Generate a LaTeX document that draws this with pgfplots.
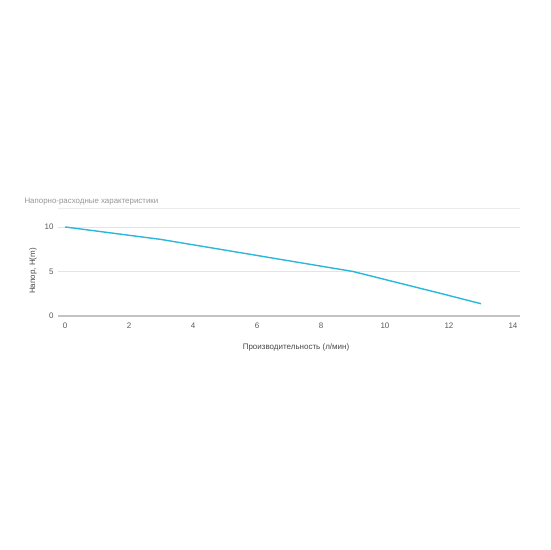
\documentclass[border=0pt]{standalone}
\usepackage{pgfplots}
\pgfplotsset{compat=1.18}
\usepackage{fontspec}
\setmainfont{Liberation Sans}
\definecolor{linec}{RGB}{43,183,218}
\definecolor{gridc}{RGB}{228,228,228}
\definecolor{axc}{RGB}{195,195,195}
\definecolor{tickc}{RGB}{90,90,90}
\definecolor{titlec}{RGB}{150,150,150}
\begin{document}
\begin{tikzpicture}[x=1pt,y=1pt]
\useasboundingbox (0,0) rectangle (550,550);
\begin{axis}[
  at={(58pt,234pt)}, anchor=south west,
  scale only axis, width=462pt, height=108pt,
  xmin=-0.219, xmax=14.22, ymin=0, ymax=12.13,
  xtick={0,2,...,14}, ytick={0,5,10},
  axis x line=bottom, axis y line=left,
  x axis line style={draw=axc, line width=1.1pt, -},
  y axis line style={draw=none},
  major tick length=0pt,
  ymajorgrids, grid style={gridc, line width=0.6pt},
  extra y ticks={12.13}, extra y tick labels={},
  extra y tick style={grid style={gridc!70, line width=0.6pt}},
  ticklabel style={font=\fontsize{8}{9}\selectfont, text=tickc},
  /pgf/number format/assume math mode=true,
  xticklabel style={yshift=-3pt},
  yticklabel style={xshift=-1pt},
  clip=false,
]
\addplot[linec, line width=1.4pt] coordinates {
 (0,10) (3,8.6) (6,6.8) (9,5.0) (12,2.3) (13,1.38)
};
\end{axis}
\node[anchor=west, text=titlec, font=\fontsize{7.9}{9.5}\selectfont] at (21,348) {Напорно-расходные характеристики};
\node[rotate=90, text=tickc!80!black, font=\fontsize{8}{9}\selectfont] at (33,279) {Напор, H(m)};
\node[text=tickc!80!black, font=\fontsize{8}{9}\selectfont] at (296,203) {Производительность (л/мин)};
\end{tikzpicture}
\end{document}
